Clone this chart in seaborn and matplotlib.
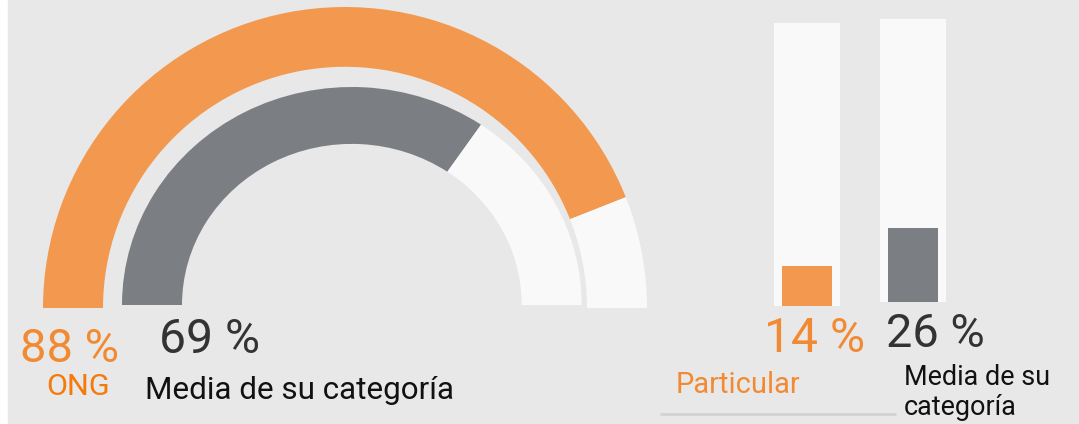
import matplotlib
matplotlib.use("Agg")
import matplotlib.pyplot as plt
import seaborn as sns
import pandas as pd

# ---- data ----
gauge_labels = ["ONG", "Media de su categoría"]
gauge_values = [88, 69]
bar_labels = ["Particular", "Media de su\ncategoría"]
bar_values = [14, 26]

ORANGE = "#f2994f"
GREY = "#7b7e83"
TRACK = "#f9f9f9"
BG = "#e8e8e8"
ORANGE_TXT = "#f28a33"
ORANGE_LBL = "#f57a0a"
DARK_TXT = "#333333"

sns.set_style("white")
plt.rcParams["font.family"] = ["Roboto", "DejaVu Sans"]

W, H = 1079, 424
fig = plt.figure(figsize=(W / 100, H / 100), dpi=100, facecolor="white")

def box(x0, y0, x1, y1):
    return [x0 / W, 1 - y1 / H, (x1 - x0) / W, (y1 - y0) / H]

# background canvas in pixel coordinates
bg = fig.add_axes([0, 0, 1, 1])
bg.set_xlim(0, W)
bg.set_ylim(H, 0)
bg.axis("off")
bg.add_patch(plt.Rectangle((8, 0), W - 8, H, color=BG, zorder=0))

# ---- gauges (half donuts) ----
gauge_boxes = [(43, 7, 647, 308), (122, 87, 581.7, 305)]
gauge_colors = [ORANGE, GREY]
gauge_width_px = 60
for (x0, y0, x1, y1), val, col in zip(gauge_boxes, gauge_values, gauge_colors):
    ax = fig.add_axes(box(x0, y0, x1, y1))
    rad_px = (x1 - x0) / 2
    ax.pie([val, 100 - val, 100], colors=[col, TRACK, "none"],
           startangle=180, counterclock=False, radius=1,
           wedgeprops=dict(width=gauge_width_px / rad_px, linewidth=0))
    ax.set_aspect("auto")
    ax.set_xlim(-1, 1)
    ax.set_ylim(0, 1)
    ax.axis("off")
    ax.patch.set_alpha(0)

# ---- vertical progress bars ----
bar_boxes = [(774, 23, 840, 305.7), (880, 19, 946, 302)]
bar_colors = [ORANGE, GREY]
for (x0, y0, x1, y1), val, col in zip(bar_boxes, bar_values, bar_colors):
    ax = fig.add_axes(box(x0, y0, x1, y1))
    df = pd.DataFrame({"k": ["a"], "track": [100], "v": [val]})
    sns.barplot(data=df, x="k", y="track", color=TRACK, width=1.0,
                saturation=1, ax=ax, linewidth=0)
    sns.barplot(data=df, x="k", y="v", color=col, width=50 / 66,
                saturation=1, ax=ax, linewidth=0)
    ax.set_xlim(-0.5, 0.5)
    ax.set_ylim(0, 100)
    ax.axis("off")
    ax.patch.set_alpha(0)

# ---- texts ----
def pt(px):
    return px * 72 / 100

bg.text(70, 362, f"{gauge_values[0]} %", color=ORANGE_TXT, fontsize=pt(47),
        ha="center", va="baseline")
bg.text(78, 395, gauge_labels[0], color=ORANGE_LBL, fontsize=pt(30.5),
        ha="center", va="baseline")
bg.text(209.5, 353, f"{gauge_values[1]} %", color=DARK_TXT, fontsize=pt(48),
        ha="center", va="baseline")
bg.text(145, 399, gauge_labels[1], color="#111111", fontsize=pt(31.4),
        ha="left", va="baseline")

bg.text(814.5, 352, f"{bar_values[0]} %", color=ORANGE_TXT, fontsize=pt(48),
        ha="center", va="baseline")
bg.text(935.5, 347, f"{bar_values[1]} %", color=DARK_TXT, fontsize=pt(47),
        ha="center", va="baseline")
bg.text(676, 393, bar_labels[0], color=ORANGE_TXT, fontsize=pt(29),
        ha="left", va="baseline")
for i, line in enumerate(bar_labels[1].split("\n")):
    bg.text(904, 385 + 30 * i, line, color="#111111", fontsize=pt(27),
            ha="left", va="baseline")

bg.plot([660, 896], [414, 414], color="#d2d2d2", linewidth=2, solid_capstyle="butt")

fig.savefig("out.png", dpi=100, facecolor="white")
